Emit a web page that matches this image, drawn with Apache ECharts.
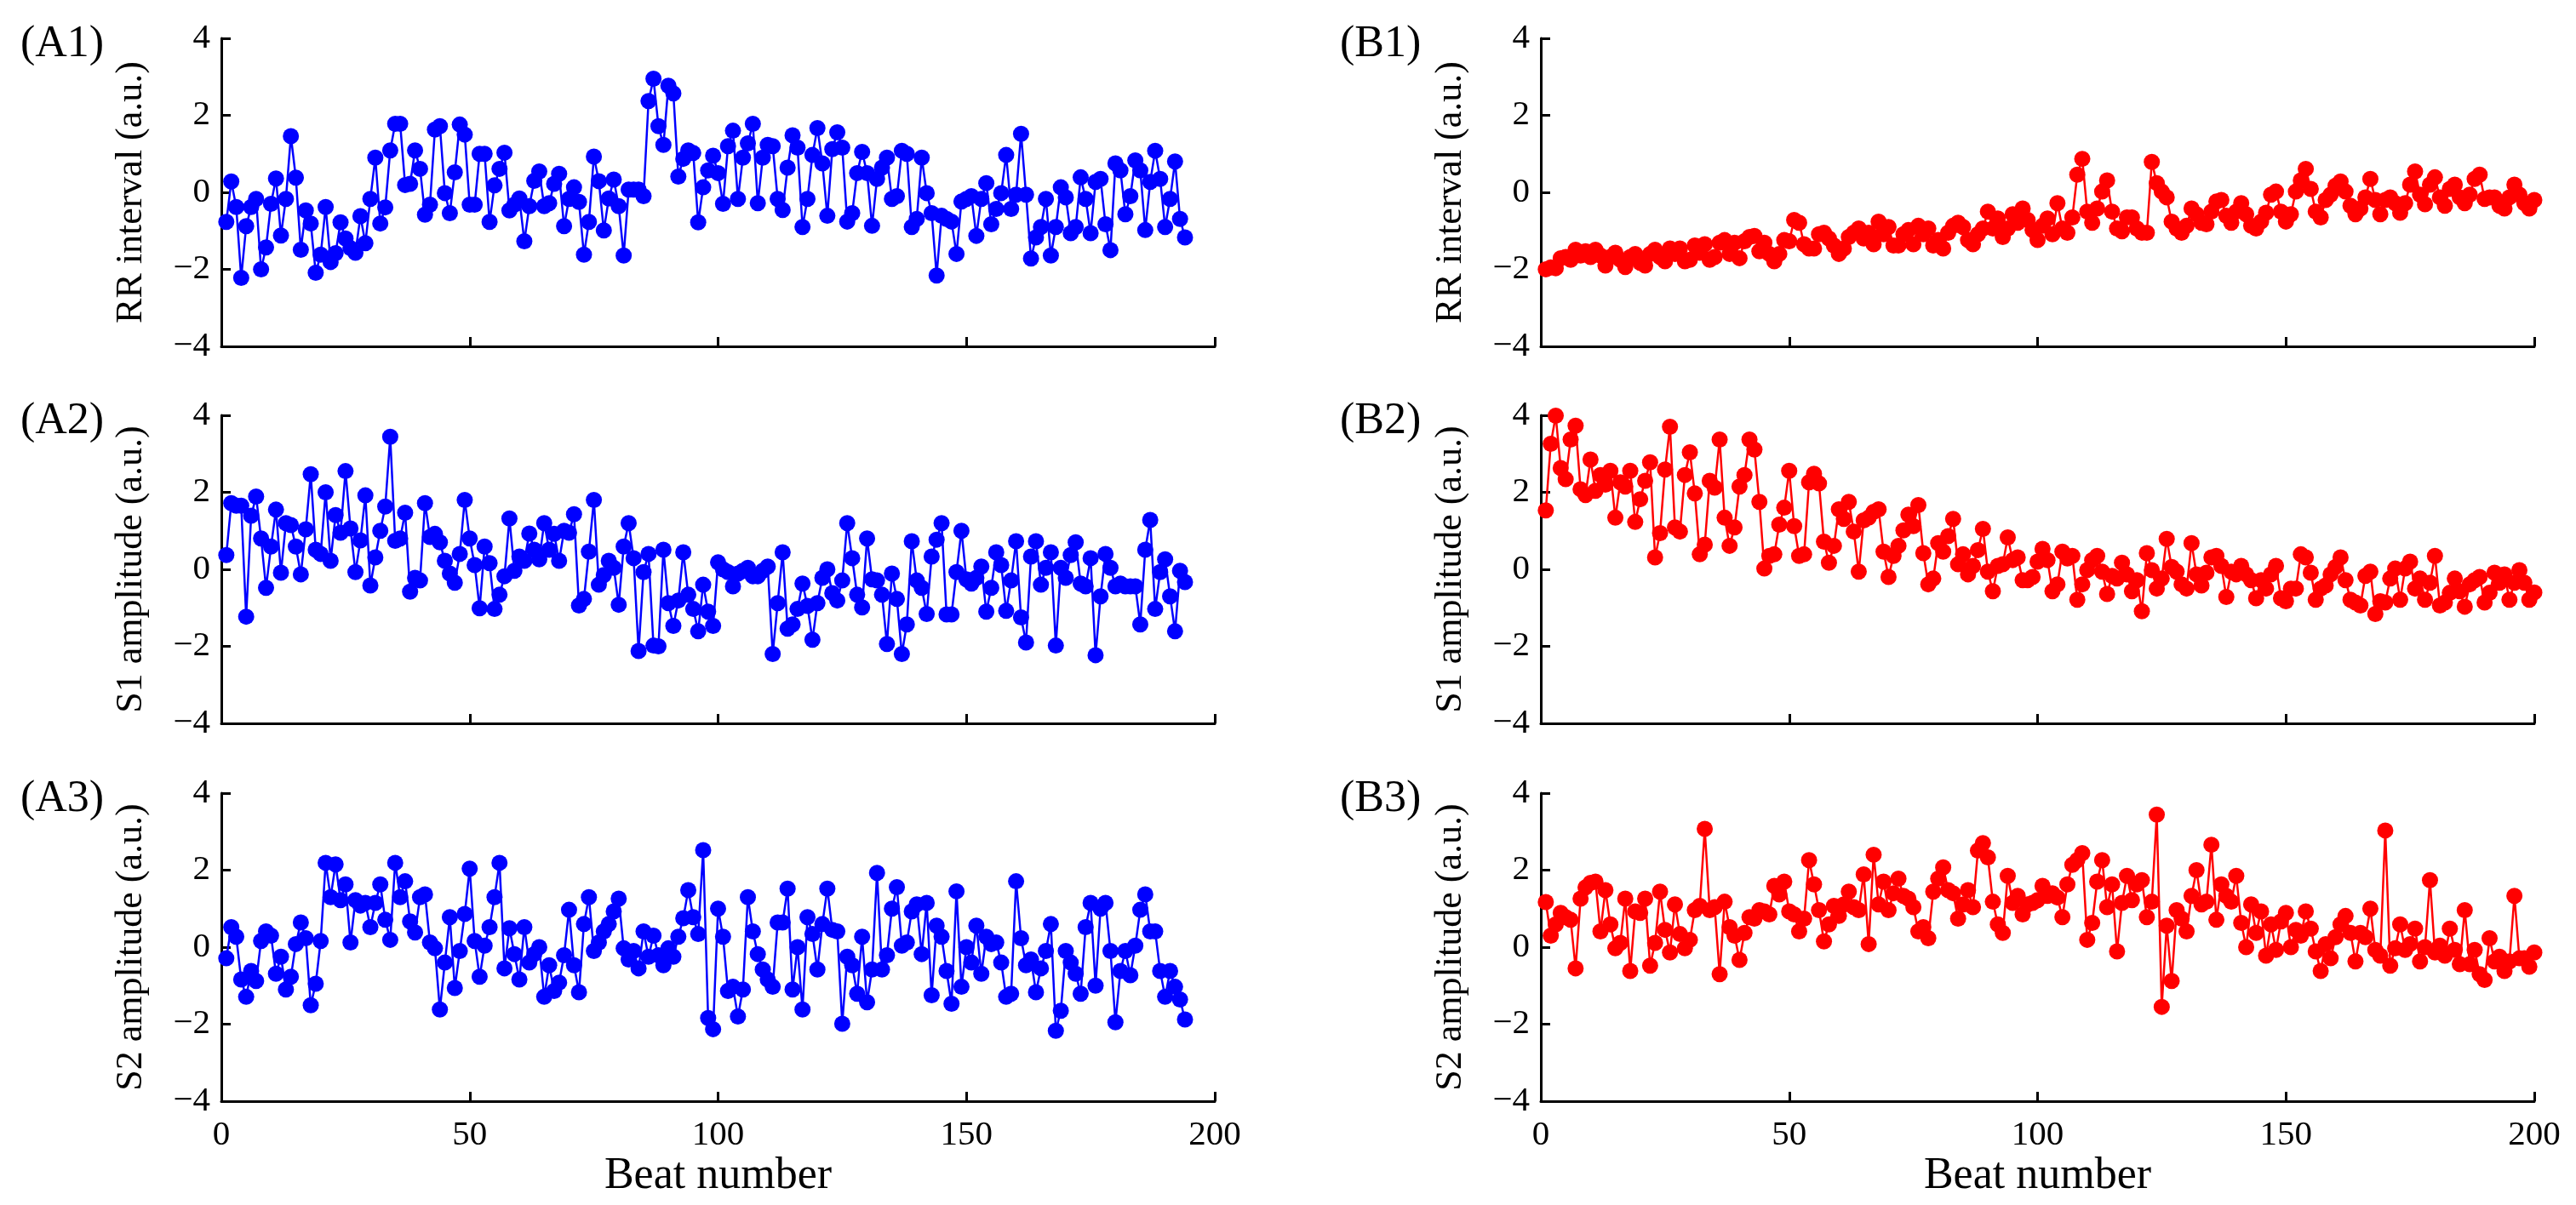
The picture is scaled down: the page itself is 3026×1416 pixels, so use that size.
<!DOCTYPE html>
<html>
<head>
<meta charset="utf-8">
<title>Beat series</title>
<script src="https://cdn.jsdelivr.net/npm/echarts@6.0.0/dist/echarts.min.js"></script>
<style>
  html, body { margin: 0; padding: 0; background: #fff; }
  #chart { width: 3026px; height: 1416px; }
</style>
</head>
<body>
<div id="chart"></div>
<script>
// values, one per beat (beat = index + 1)
var rrA = [
    -0.77, 0.28, -0.38, -2.22, -0.88, -0.38, -0.17, -2.0, -1.43, -0.3,
    0.36, -1.12, -0.17, 1.46, 0.38, -1.49, -0.47, -0.81, -2.09, -1.62,
    -0.38, -1.81, -1.58, -0.78, -1.2, -1.45, -1.57, -0.62, -1.32, -0.17,
    0.9, -0.81, -0.39, 1.09, 1.78, 1.78, 0.19, 0.22, 1.09, 0.61,
    -0.58, -0.32, 1.63, 1.72, -0.02, -0.54, 0.52, 1.76, 1.5, -0.32,
    -0.32, 1.0, 1.0, -0.77, 0.18, 0.61, 1.03, -0.47, -0.32, -0.16,
    -1.27, -0.36, 0.3, 0.54, -0.36, -0.28, 0.22, 0.48, -0.88, -0.17,
    0.13, -0.25, -1.62, -0.77, 0.93, 0.29, -0.99, -0.16, 0.33, -0.36,
    -1.64, 0.07, 0.07, 0.07, -0.1, 2.37, 2.95, 1.72, 1.23, 2.77,
    2.57, 0.41, 0.87, 1.09, 1.02, -0.78,
    0.13, 0.57, 0.95, 0.5, -0.3, 1.2, 1.6, -0.17, 0.9, 1.27,
    1.78, -0.28, 0.9, 1.23, 1.2, -0.17, -0.46, 0.64, 1.48, 1.16,
    -0.9, -0.17, 0.97, 1.67, 0.75, -0.61, 1.12, 1.56, 1.16, -0.76,
    -0.54, 0.5, 1.05, 0.5, -0.87, 0.35, 0.64, 0.9, -0.17, -0.1,
    1.08, 1.0, -0.9, -0.69, 0.9, -0.02, -0.54, -2.16, -0.61, -0.69,
    -0.76, -1.6, -0.24, -0.17, -0.1, -1.13, -0.17, 0.24, -0.83, -0.43,
    -0.02, 0.97, -0.43, -0.06, 1.52, -0.06, -1.72, -1.17, -0.9, -0.17,
    -1.64, -0.9, 0.13, -0.13, -1.06, -0.9, 0.39, -0.17, -1.06, 0.27,
    0.35, -0.83, -1.5, 0.75, 0.57, -0.57, -0.1, 0.83, 0.57, -0.98,
    0.27, 1.08, 0.35, -0.9, -0.17, 0.8, -0.69, -1.17
];
var s1A = [
    0.37, 1.72, 1.65, 1.65, -1.23, 1.39, 1.89, 0.8, -0.48, 0.59,
    1.55, -0.09, 1.2, 1.15, 0.59, -0.13, 1.04, 2.47, 0.51, 0.4,
    2.0, 0.22, 1.41, 0.95, 2.55, 1.06, -0.07, 0.75, 1.92, -0.42,
    0.31, 1.0, 1.63, 3.44, 0.74, 0.8, 1.47, -0.58, -0.22, -0.29,
    1.72, 0.84, 0.92, 0.7, 0.22, -0.11, -0.35, 0.4, 1.8, 0.8,
    0.11, -1.01, 0.59, 0.16, -1.03, -0.66, -0.18, 1.32, -0.04, 0.33,
    0.22, 0.93, 0.51, 0.26, 1.2, 0.51, 0.92, 0.22, 1.0, 0.95,
    1.43, -0.94, -0.77, 0.46, 1.8, -0.4, -0.15, 0.22, 0.04, -0.92,
    0.59, 1.2, 0.29, -2.12, -0.07, 0.4, -1.98, -2.0, 0.51, -0.88,
    -1.47, -0.81, 0.44, -0.66, -1.03, -1.61, -0.4, -1.1, -1.47, 0.18,
    0.0, -0.07, -0.44, -0.11, -0.04, 0.04, -0.18, -0.18, -0.04, 0.07,
    -2.2, -0.88, 0.44, -1.54, -1.43, -1.03, -0.37, -0.95, -1.83, -0.88,
    -0.22, 0.0, -0.62, -0.81, -0.29, 1.2, 0.29, -0.66, -0.99, 0.8,
    -0.26, -0.29, -0.66, -1.94, -0.11, -0.77, -2.2, -1.43, 0.73, -0.29,
    -0.48, -1.16, 0.33, 0.77, 1.2, -1.17, -1.17, -0.07, 1.0, -0.26,
    -0.37, -0.22, 0.07, -1.1, -0.48, 0.44, 0.11, -1.08, -0.29, 0.73,
    -1.25, -1.9, 0.33, 0.73, -0.4, 0.04, 0.44, -1.98, 0.04, -0.22,
    0.37, 0.7, -0.37, -0.44, 0.29, -2.23, -0.7, 0.4, 0.04, -0.44,
    -0.37, -0.44, -0.44, -0.44, -1.43, 0.51, 1.28, -1.03, -0.07, 0.26,
    -0.7, -1.61, -0.04, -0.33
];
var s2A = [
    -0.29, 0.52, 0.27, -0.84, -1.29, -0.62, -0.88, 0.16, 0.41, 0.3,
    -0.69, -0.25, -1.1, -0.77, 0.08, 0.64, 0.23, -1.51, -0.95, 0.16,
    2.19, 1.3, 2.15, 1.22, 1.63, 0.12, 1.22, 1.08, 1.15, 0.52,
    1.15, 1.63, 0.71, 0.19, 2.19, 1.3, 1.71, 0.67, 0.38, 1.3,
    1.37, 0.12, -0.03, -1.62, -0.4, 0.78, -1.06, -0.1, 0.86, 2.04,
    0.16, -0.77, 0.04, 0.52, 1.3, 2.19, -0.55, 0.49, -0.18, -0.84,
    0.52, -0.4, -0.18, 0.0, -1.29, -0.47, -1.14, -0.92, -0.21, 0.97,
    -0.47, -1.17, 0.6, 1.3, -0.1, 0.12, 0.41, 0.6, 0.93, 1.26,
    -0.03, -0.32, -0.1, -0.55, 0.41, -0.25, 0.3, -0.21, -0.47, -0.03,
    -0.25, 0.27, 0.75, 1.48, 0.78, 0.34, 2.52, -1.84, -2.13, 1.0,
    0.27, -1.14, -1.03, -1.8, -1.1, 1.3, 0.41, -0.18, -0.58, -0.84,
    -1.03, 0.64, 0.64, 1.52, -1.1, 0.0, -1.62, 0.78, 0.34, -0.58,
    0.6, 1.52, 0.45, 0.41, -1.99, -0.25, -0.47, -1.21, 0.27, -1.43,
    -0.58, 1.93, -0.58, -0.21, 1.0, 1.56, 0.04, 0.12, 0.93, 1.11,
    -0.18, 1.15, -1.25, 0.56, 0.27, -0.62, -1.47, 1.45, -1.03, 0.0,
    -0.4, 0.56, -0.69, 0.27, 0.08, 0.12, -0.4, -1.29, -1.21, 1.71,
    0.23, -0.47, -0.32, -1.17, -0.55, -0.1, 0.6, -2.17, -1.65, -0.1,
    -0.4, -0.69, -1.21, 0.52, 1.15, -1.0, 1.0, 1.15, -0.1, -1.95,
    -0.62, -0.1, -0.73, 0.04, 0.97, 1.37, 0.41, 0.41, -0.62, -1.29,
    -0.62, -1.03, -1.36, -1.88
];
var rrB = [
    -2.0, -1.95, -1.97, -1.71, -1.68, -1.75, -1.49, -1.64, -1.53, -1.68,
    -1.49, -1.64, -1.9, -1.68, -1.57, -1.75, -1.94, -1.68, -1.6, -1.83,
    -1.9, -1.6, -1.49, -1.68, -1.79, -1.46, -1.6, -1.46, -1.79, -1.75,
    -1.38, -1.57, -1.35, -1.75, -1.68, -1.31, -1.24, -1.6, -1.31, -1.71,
    -1.27, -1.16, -1.13, -1.53, -1.31, -1.6, -1.79, -1.6, -1.24, -1.27,
    -0.72, -0.79, -1.35, -1.46, -1.46, -1.09, -1.05, -1.2, -1.38, -1.6,
    -1.46, -1.16, -1.05, -0.94, -1.2, -1.05, -1.35, -0.76, -1.09, -0.9,
    -1.38, -1.38, -1.09, -0.98, -1.35, -0.87, -1.09, -0.94, -1.38, -1.24,
    -1.46, -1.05, -0.87, -0.79, -0.9, -1.24, -1.35, -1.09, -0.94, -0.5,
    -0.94, -0.68, -1.16, -0.94, -0.57, -0.79, -0.42, -0.72, -0.98, -1.24,
    -0.87, -0.68, -1.09, -0.28, -0.94, -1.05, -0.65, 0.46, 0.87, -0.5,
    -0.79, -0.42, 0.02, 0.31, -0.5, -0.94, -1.01, -0.65, -0.65, -0.94,
    -1.05, -1.05, 0.79, 0.24, 0.02, -0.13, -0.76, -0.94, -1.05, -0.87,
    -0.42, -0.57, -0.79, -0.83, -0.5, -0.24, -0.2, -0.61, -0.79, -0.5,
    -0.28, -0.57, -0.87, -0.94, -0.76, -0.53, -0.06, 0.02, -0.5, -0.76,
    -0.57, 0.02, 0.31, 0.61, 0.09, -0.5, -0.65, -0.2, -0.06, 0.17,
    0.28, 0.02, -0.35, -0.57, -0.42, -0.13, 0.35, -0.2, -0.57, -0.2,
    -0.13, -0.28, -0.53, -0.28, 0.2, 0.54, -0.06, -0.31, 0.2, 0.39,
    -0.13, -0.35, 0.09, 0.2, -0.13, -0.28, -0.06, 0.35, 0.46, -0.17,
    -0.13, -0.13, -0.35, -0.42, -0.13, 0.2, -0.06, -0.28, -0.42, -0.2
];
var s1B = [
    1.53, 3.26, 3.99, 2.63, 2.34, 3.37, 3.73, 2.08, 1.93, 2.85,
    2.04, 2.45, 2.2,
    2.56, 1.34, 2.26, 2.15, 2.56, 1.23, 1.82, 2.30, 2.78, 0.31,
    0.94, 2.59, 3.70, 1.09, 0.98, 2.45, 3.04, 1.97, 0.39, 0.64,
    2.30, 2.12, 3.37, 1.34, 0.61, 1.09, 2.15, 2.45, 3.37, 3.11,
    1.75, 0.02, 0.35, 0.39, 1.16, 1.60, 2.56, 1.12, 0.35, 0.39,
    2.26, 2.48, 2.23, 0.72, 0.17, 0.61, 1.56, 1.31, 1.75, 0.98,
    -0.06, 1.27, 1.34, 1.49, 1.56, 0.46, -0.20, 0.35, 0.61, 1.01,
    1.42, 1.12, 1.67, 0.42, -0.39, -0.24, 0.68, 0.46, 0.86, 1.31,
    0.13, 0.39, -0.13, 0.09, 0.50, 1.05, -0.06, -0.57, 0.09, 0.13,
    0.83, 0.24, 0.31, -0.28, -0.28, -0.20, 0.20, 0.53, 0.24, -0.57,
    -0.39, 0.46, 0.28, 0.35, -0.79, -0.39, -0.02, 0.24, 0.35, -0.06,
    -0.64, -0.17, -0.24, 0.17, -0.13, -0.57, -0.28, -1.09, 0.42, -0.02,
    -0.50, -0.24, 0.79, 0.06, -0.06, -0.39, -0.50, 0.68, -0.13, -0.42,
    -0.09, 0.31, 0.35, 0.09, -0.72, -0.06, -0.13, 0.09, -0.13, -0.28,
    -0.75, -0.28, -0.50, -0.13, 0.09, -0.75, -0.83, -0.50, -0.50, 0.39,
    0.31, -0.09, -0.79, -0.50, -0.42, -0.13, 0.06, 0.31, -0.28, -0.79,
    -0.86, -0.94, -0.17, -0.06, -1.16, -0.83, -0.86, -0.24, 0.02, -0.79,
    0.02, 0.20, -0.50, -0.24, -0.79, -0.35, 0.35, -0.94, -0.86, -0.61,
    -0.24, -0.57, -0.97, -0.39, -0.28, -0.20, -0.86, -0.61, -0.09, -0.35,
    -0.13, -0.79, -0.35, -0.02, -0.35, -0.79, -0.6
];
var s2B = [
    1.17, 0.30, 0.59, 0.89, 0.78, 0.71, -0.55, 1.26, 1.55, 1.67,
    1.70, 0.41, 1.48, 0.59, -0.03, 0.11, 1.26, -0.62, 0.93, 0.89,
    1.26, -0.48, 0.11, 1.44, 0.45, -0.14, 1.11, 0.34, -0.03, 0.19,
    0.96, 1.07, 3.07, 0.96, 1.04, -0.70, 1.18, 0.52, 0.30, -0.33,
    0.37, 0.78, 0.74, 0.96, 0.93, 0.85, 1.59, 1.37, 1.70, 0.93,
    0.85, 0.41, 0.74, 2.26, 1.63, 0.96, 0.15, 0.59, 1.07, 0.81,
    1.11, 1.44, 1.04, 0.96, 1.89, 0.08, 2.40, 1.11, 1.70, 0.96,
    1.40, 1.78, 1.33, 1.26, 1.04, 0.41, 0.52, 0.23, 1.44, 1.78,
    2.07, 1.48, 1.40, 0.74, 1.11, 1.48, 1.04, 2.51, 2.70, 2.33,
    1.18, 0.59, 0.37, 1.85, 1.15, 1.33, 0.85, 1.11, 1.15, 1.22,
    1.59, 1.33, 1.40, 1.29, 0.78, 1.63, 2.14, 2.26, 2.44, 0.19,
    0.63, 1.70, 2.26, 1.04, 1.63, -0.11, 1.15, 1.85, 1.22, 1.63,
    1.74, 0.78, 1.18, 3.44, -1.55, 0.56, -0.88, 0.96, 0.74, 0.41,
    1.33, 2.00, 1.11, 1.18, 2.66, 0.71, 1.63, 1.33, 1.18, 1.85,
    0.63, 0.00, 1.11, 0.37, 0.93, -0.22, 0.59, -0.07, 0.67, 0.89,
    0.00, 0.45, 0.30, 0.93, 0.48, -0.11, -0.62, 0.08, -0.29, 0.26,
    0.59, 0.81, 0.37, -0.37, 0.37, 0.26, 1.00, -0.07, -0.22, 3.03,
    -0.48, -0.03, 0.59, -0.07, 0.08, 0.48, -0.37, 0.00, 1.74, -0.14,
    0.04, -0.22, 0.48, -0.07, -0.44, 0.96, -0.44, -0.07, -0.70, -0.85,
    0.23, -0.37, -0.25, -0.62, -0.37, 1.33, -0.29, -0.29, -0.51, -0.14
];

var panelLabels = ["(A1)", "(A2)", "(A3)", "(B1)", "(B2)", "(B3)"];
var yNames = ["RR interval (a.u.)", "S1 amplitude (a.u.)", "S2 amplitude (a.u.)"];
var xName = "Beat number";

var FONT = "'Liberation Serif', 'Times New Roman', serif";
var colLeft = [260, 1810];
var rowTop = [45, 488, 932];
var PLOT_W = 1167, PLOT_H = 362;

function toPairs(vals) {
    return vals.map(function (v, i) { return [i + 1, v]; });
}
function minusSign(v) {
    return String(v).replace('-', '\u2212');
}

var panels = [
    { data: rrA, col: 0, row: 0, color: '#0000ff' },
    { data: s1A, col: 0, row: 1, color: '#0000ff' },
    { data: s2A, col: 0, row: 2, color: '#0000ff' },
    { data: rrB, col: 1, row: 0, color: '#ff0000' },
    { data: s1B, col: 1, row: 1, color: '#ff0000' },
    { data: s2B, col: 1, row: 2, color: '#ff0000' }
];

var grids = [], xAxes = [], yAxes = [], series = [], titles = [];
for (var i = 0; i < panels.length; ++i) {
    var p = panels[i];
    var bottomRow = p.row == 2;
    grids.push({
        left: colLeft[p.col], top: rowTop[p.row],
        width: PLOT_W, height: PLOT_H
    });
    xAxes.push({
        type: 'value', gridIndex: i, min: 0, max: 200, interval: 50,
        name: bottomRow ? xName : '',
        nameLocation: 'middle', nameGap: 62,
        nameTextStyle: { fontFamily: FONT, fontSize: 52, color: '#000' },
        axisLine: { onZero: false, lineStyle: { color: '#000', width: 3 } },
        axisTick: { inside: true, length: 11, lineStyle: { color: '#000', width: 3 } },
        axisLabel: { show: bottomRow, margin: 20, fontFamily: FONT, fontSize: 41, color: '#000' },
        splitLine: { show: false }
    });
    yAxes.push({
        type: 'value', gridIndex: i, min: -4, max: 4, interval: 2,
        name: yNames[p.row],
        nameLocation: 'middle', nameGap: 84,
        nameTextStyle: { fontFamily: FONT, fontSize: 44, color: '#000' },
        axisLine: { show: true, onZero: false, lineStyle: { color: '#000', width: 3 } },
        axisTick: { show: true, inside: true, length: 11, lineStyle: { color: '#000', width: 3 } },
        axisLabel: { margin: 13, fontFamily: FONT, fontSize: 41, color: '#000', formatter: minusSign },
        splitLine: { show: false }
    });
    series.push({
        type: 'line', xAxisIndex: i, yAxisIndex: i,
        data: toPairs(p.data),
        symbol: 'circle', symbolSize: 19, showAllSymbol: true,
        itemStyle: { color: p.color },
        lineStyle: { color: p.color, width: 2.5 },
        emphasis: { disabled: true },
        animation: false
    });
    titles.push({
        text: panelLabels[i],
        left: colLeft[p.col] - 236, top: rowTop[p.row] - 19,
        padding: 0,
        textStyle: { fontFamily: FONT, fontSize: 52, fontWeight: 'normal', color: '#000' }
    });
}

var chart = echarts.init(document.getElementById('chart'));
chart.setOption({
    backgroundColor: '#fff',
    animation: false,
    title: titles,
    grid: grids,
    xAxis: xAxes,
    yAxis: yAxes,
    series: series
});
</script>
</body>
</html>
